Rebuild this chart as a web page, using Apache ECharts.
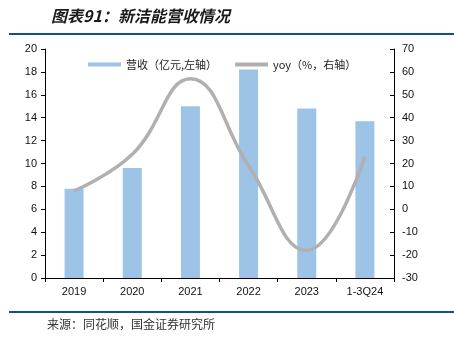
<!DOCTYPE html>
<html>
<head>
<meta charset="utf-8">
<script src="https://cdn.jsdelivr.net/npm/echarts@6/dist/echarts.min.js"></script>
<style>
  html, body { margin: 0; padding: 0; background: #fff; }
  #chart { width: 454px; height: 341px; }
</style>
</head>
<body>
<div id="chart"></div>
<script>
// Revenue (100M CNY, left axis) and YoY growth (%, right axis)
const categories = ['2019', '2020', '2021', '2022', '2023', '1-3Q24'];
const revenue = [7.8, 9.6, 15.0, 18.2, 14.8, 13.7];
const yoy = [8, 24, 57, 19, -18, 23];

const titleText = '图表91：新洁能营收情况';
const sourceText = '来源：同花顺，国金证券研究所';
const revenueName = '营收（亿元,左轴）';
const yoyName = 'yoy（%，右轴）';

const latin = '"Liberation Sans", Arial, "Noto Sans CJK SC", sans-serif';
const cjk = '"Noto Sans CJK SC", "Liberation Sans", sans-serif';

const chart = echarts.init(document.getElementById('chart'), null, { renderer: 'canvas' });

chart.setOption({
  animation: false,
  backgroundColor: '#ffffff',
  title: {
    text: titleText,
    left: 46,
    top: 3,
    textStyle: {
      fontFamily: cjk,
      fontSize: 16,
      fontWeight: 'bold',
      fontStyle: 'italic',
      color: '#1a1a1a'
    }
  },
  graphic: [
    {
      type: 'line',
      shape: { x1: 9, y1: 34, x2: 454, y2: 34 },
      style: { stroke: '#12508a', lineWidth: 2 }
    },
    {
      type: 'line',
      shape: { x1: 9, y1: 312, x2: 454, y2: 312 },
      style: { stroke: '#12508a', lineWidth: 2 }
    },
    {
      type: 'text',
      left: 47,
      top: 318,
      style: {
        text: sourceText,
        font: '12px ' + cjk,
        fill: '#333333'
      }
    }
  ],
  legend: {
    top: 54,
    left: 83,
    itemGap: 18,
    itemWidth: 33,
    itemHeight: 4,
    textStyle: { fontFamily: cjk, fontSize: 11, color: '#222' },
    data: [
      { name: revenueName, icon: 'rect' },
      { name: yoyName, icon: 'rect' }
    ]
  },
  grid: { left: 45, right: 60, top: 49, bottom: 63 },
  xAxis: {
    type: 'category',
    data: categories,
    boundaryGap: true,
    axisLine: { lineStyle: { color: '#000', width: 1 } },
    axisTick: { show: true, alignWithLabel: false, length: 4, lineStyle: { color: '#000' } },
    axisLabel: { color: '#111', fontFamily: latin, fontSize: 11, margin: 8 },
    splitLine: { show: false }
  },
  yAxis: [
    {
      type: 'value',
      min: 0, max: 20, interval: 2,
      axisLine: { show: true, lineStyle: { color: '#000' } },
      axisTick: { show: true, length: 4, lineStyle: { color: '#000' } },
      axisLabel: { color: '#111', fontFamily: latin, fontSize: 11, margin: 8 },
      splitLine: { show: false }
    },
    {
      type: 'value',
      min: -30, max: 70, interval: 10,
      axisLine: { show: true, lineStyle: { color: '#000' } },
      axisTick: { show: true, inside: true, length: 4, lineStyle: { color: '#000' } },
      axisLabel: { color: '#111', fontFamily: latin, fontSize: 11, margin: 8 },
      splitLine: { show: false }
    }
  ],
  series: [
    {
      name: revenueName,
      type: 'bar',
      yAxisIndex: 0,
      data: revenue,
      barWidth: 19,
      itemStyle: { color: '#9dc3e6' }
    },
    {
      name: yoyName,
      type: 'line',
      yAxisIndex: 1,
      data: yoy,
      smooth: 0.45,
      symbol: 'none',
      lineStyle: { color: '#b0b0b0', width: 3.5 },
      itemStyle: { color: '#b0b0b0' }
    }
  ]
});
</script>
</body>
</html>
